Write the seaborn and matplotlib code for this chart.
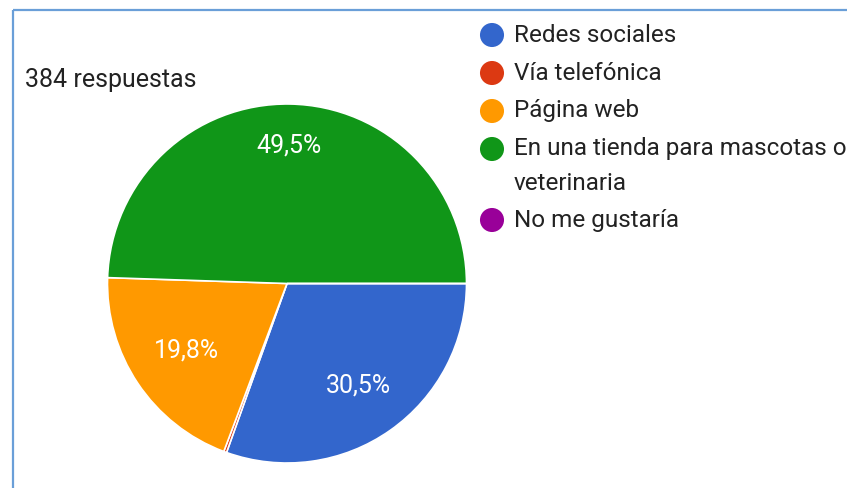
import numpy as np
import matplotlib
matplotlib.use("Agg")
import matplotlib.pyplot as plt
import seaborn as sns
from matplotlib.patches import Rectangle

# -------------------------------
# DATA (384 respuestas)
# -------------------------------
categories = [
    "Redes sociales",
    "Vía telefónica",
    "Página web",
    "En una tienda para mascotas o\nveterinaria",
    "No me gustaría",
]
counts = [117, 1, 76, 190, 0]
total_label = "384 respuestas"

colors = ["#3366cc", "#dc3912", "#ff9900", "#109618", "#990099"]
label_radius = [0.695, 0.7, 0.675, 0.77, 0.7]

sns.set_theme(style="white")
plt.rcParams["font.family"] = ["Roboto", "DejaVu Sans"]

W, H = 847, 488
fig = plt.figure(figsize=(W / 100, H / 100), dpi=100)
fig.patch.set_facecolor("white")

# overlay in pixel coordinates for frame, title and legend
over = fig.add_axes([0, 0, 1, 1])
over.set_xlim(0, W)
over.set_ylim(H, 0)
over.axis("off")
over.add_patch(Rectangle((12.5, 10), 1000, 1000, fill=False,
                         edgecolor="#6a9fd8", lw=1.6))
over.text(25, 80, total_label, fontsize=18, color="#222222",
          va="center", ha="left")

# pie axes: center (287, 283.5), radius 179.5 px
cx, cy, r = 287, 283.5, 179.5
ax = fig.add_axes([(cx - r) / W, (H - cy - r) / H, 2 * r / W, 2 * r / H])

def fmt(p):
    return f"{p:.1f}%".replace(".", ",") if p > 5 else ""

wedges, texts, autotexts = ax.pie(
    counts, colors=colors, startangle=0, counterclock=False,
    radius=1, autopct=fmt, pctdistance=0.7,
    wedgeprops=dict(edgecolor="white", linewidth=1.2),
    textprops=dict(color="white", fontsize=18),
)
for t, rr in zip(autotexts, label_radius):
    x, y = t.get_position()
    t.set_position((x / 0.7 * rr, y / 0.7 * rr))
ax.set_xlim(-1, 1)
ax.set_ylim(-1, 1)
ax.axis("off")

# legend
y = 35
for lab, col in zip(categories, colors):
    over.scatter([492], [y], s=300, color=col, edgecolor="none")
    lines = lab.split("\n")
    for i, line in enumerate(lines):
        over.text(514, y + 34 * i, line, fontsize=17.5, color="#222222",
                  va="center", ha="left")
    y += 38 + 33 * (len(lines) - 1)

fig.savefig("out.png", dpi=100, facecolor="white")
